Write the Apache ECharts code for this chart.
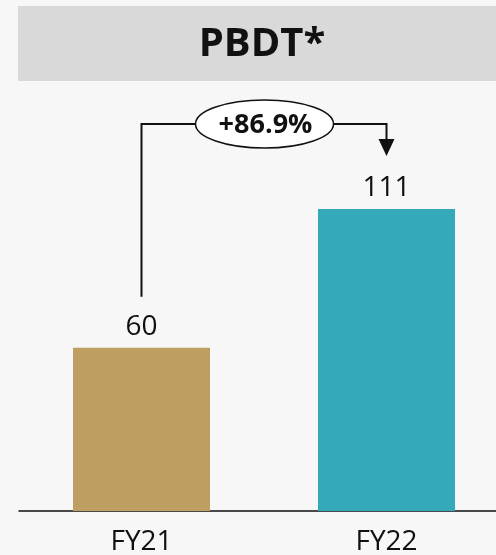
<!DOCTYPE html>
<html>
<head>
<meta charset="utf-8">
<script src="https://cdn.jsdelivr.net/npm/echarts@6/dist/echarts.min.js"></script>
<style>
  html, body { margin: 0; padding: 0; background: #f7f7f7; }
  #chart { width: 496px; height: 555px; }
</style>
</head>
<body>
<div id="chart"></div>
<script>
// PBDT by financial year
const categories = ['FY21', 'FY22'];
const pbdt = [60, 111];
const barColors = ['#bf9f61', '#33a9b9'];
const growthLabel = '+86.9%';
const titleText = 'PBDT*';

const chart = echarts.init(document.getElementById('chart'), null, { renderer: 'canvas' });

const option = {
  backgroundColor: '#f7f7f7',
  animation: false,
  grid: { left: 19, width: 490, bottom: 44, top: 103, outerBoundsMode: 'none', containLabel: false },
  xAxis: {
    type: 'category',
    data: categories,
    axisLine: { show: true, lineStyle: { color: '#111', width: 1.5 } },
    axisTick: { show: false },
    axisLabel: {
      color: '#111', fontFamily: 'Open Sans', fontSize: 28, margin: 17
    }
  },
  yAxis: {
    type: 'value', min: 0, max: 150,
    show: false, splitLine: { show: false }
  },
  series: [{
    type: 'bar',
    barWidth: 137,
    data: pbdt.map((v, i) => ({ value: v, itemStyle: { color: barColors[i] } })),
    label: {
      show: true, position: 'top', distance: 7,
      color: '#111', fontFamily: 'Open Sans', fontSize: 28
    }
  }]
};
chart.setOption(option);

// Title band and growth connector, placed from the axis scales
function drawOverlay() {
  const p0 = chart.convertToPixel({ seriesIndex: 0 }, [0, pbdt[0]]);
  const p1 = chart.convertToPixel({ seriesIndex: 0 }, [1, pbdt[1]]);
  const x0 = p0[0], x1 = p1[0];
  const yTopLine = 124;
  const startY = p0[1] - 51;
  const tipY = p1[1] - 53;
  const midX = (x0 + x1) / 2 + 0.5;
  const rx = 69, ry = 24;
  const stroke = { stroke: '#111', lineWidth: 2 };

  chart.setOption({
    graphic: [
      { type: 'rect', shape: { x: 18, y: 6, width: 478, height: 75 }, style: { fill: '#d9d9d9' }, z: 1 },
      { type: 'text', x: 262, y: 45, style: { text: titleText, fill: '#111', font: 'bold 40px "Open Sans"', align: 'center', verticalAlign: 'middle' }, z: 2 },
      { type: 'polyline', shape: { points: [[x0, startY], [x0, yTopLine], [midX - rx, yTopLine]] }, style: Object.assign({ fill: null }, stroke), z: 3 },
      { type: 'polyline', shape: { points: [[midX + rx, yTopLine], [x1, yTopLine], [x1, tipY - 16]] }, style: Object.assign({ fill: null }, stroke), z: 3 },
      { type: 'polygon', shape: { points: [[x1 - 8, tipY - 17], [x1 + 8, tipY - 17], [x1, tipY]] }, style: { fill: '#111' }, z: 3 },
      { type: 'ellipse', shape: { cx: midX, cy: yTopLine, rx: rx, ry: ry }, style: { fill: '#fff', stroke: '#111', lineWidth: 1.5 }, z: 3 },
      { type: 'text', x: midX + 1, y: yTopLine + 1, style: { text: growthLabel, fill: '#111', font: 'bold 27px "Open Sans"', align: 'center', verticalAlign: 'middle' }, z: 4 }
    ]
  });
}
drawOverlay();
</script>
</body>
</html>
